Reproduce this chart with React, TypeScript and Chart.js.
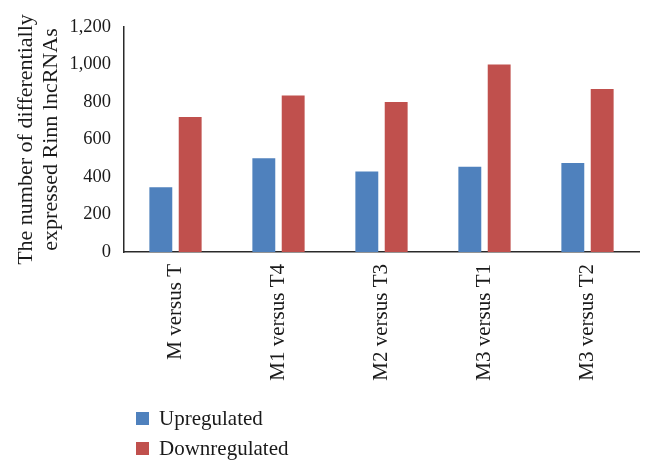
import React, { useEffect, useRef } from "react";
import { Chart, registerables } from "chart.js";

Chart.register(...registerables);

const categories = ["M versus T", "M1 versus T4", "M2 versus T3", "M3 versus T1", "M3 versus T2"];
const upregulated = [345, 500, 430, 455, 475];
const downregulated = [720, 835, 800, 1000, 870];
const seriesNames = ["Upregulated", "Downregulated"];
const seriesColors = ["#4F81BD", "#C0504D"];
const yTitle = ["The number of differentially", "expressed Rinn lncRNAs"];
const yMax = 1200;
const yStep = 200;

const FONT = "'Liberation Serif', 'Times New Roman', serif";

export default function App() {
  const ref = useRef<HTMLCanvasElement | null>(null);

  useEffect(() => {
    document.body.style.margin = "0";
    const canvas = ref.current;
    if (!canvas) return;
    const chart = new Chart(canvas, {
      type: "bar",
      data: {
        labels: categories,
        datasets: [
          {
            label: seriesNames[0],
            data: upregulated,
            backgroundColor: seriesColors[0],
            categoryPercentage: 0.57,
            barPercentage: 0.78,
          },
          {
            label: seriesNames[1],
            data: downregulated,
            backgroundColor: seriesColors[1],
            categoryPercentage: 0.57,
            barPercentage: 0.78,
          },
        ],
      },
      options: {
        responsive: false,
        animation: false,
        layout: { padding: { top: 27, right: 15, bottom: 0, left: 0 } },
        plugins: {
          legend: { display: false },
          tooltip: { enabled: false },
        },
        scales: {
          x: {
            grid: { display: false, drawTicks: false },
            border: { display: true, color: "#2a2a2a", width: 1.5 },
            ticks: {
              autoSkip: false,
              minRotation: 90,
              maxRotation: 90,
              padding: 12,
              color: "#1a1a1a",
              font: { family: FONT, size: 21 },
            },
            afterFit: (scale: any) => {
              scale.height = 471 - 252;
            },
          },
          y: {
            min: 0,
            max: yMax,
            grid: { display: false, drawTicks: false },
            border: { display: true, color: "#2a2a2a", width: 1.5 },
            ticks: {
              stepSize: yStep,
              padding: 13,
              color: "#1a1a1a",
              font: { family: FONT, size: 18.5 },
              callback: (v: any) => Number(v).toLocaleString("en-US"),
            },
            title: {
              display: true,
              text: yTitle,
              color: "#1a1a1a",
              font: { family: FONT, size: 22, lineHeight: 1.14 },
              padding: { top: 14, bottom: 0 },
            },
            afterFit: (scale: any) => {
              scale.width = 124;
            },
          },
        },
      },
    });
    return () => chart.destroy();
  }, []);

  return (
    <div style={{ position: "relative", width: 654, height: 471 }}>
      <canvas ref={ref} width={654} height={471} style={{ display: "block" }} />
      <div
        style={{
          position: "absolute",
          left: 136,
          top: 403,
          fontFamily: FONT,
          fontSize: 21,
          color: "#1a1a1a",
        }}
      >
        {seriesNames.map((name, i) => (
          <div key={name} style={{ display: "flex", alignItems: "center", height: 30 }}>
            <span
              style={{
                display: "inline-block",
                width: 13,
                height: 13,
                background: seriesColors[i],
                marginRight: 10,
              }}
            />
            <span>{name}</span>
          </div>
        ))}
      </div>
    </div>
  );
}
